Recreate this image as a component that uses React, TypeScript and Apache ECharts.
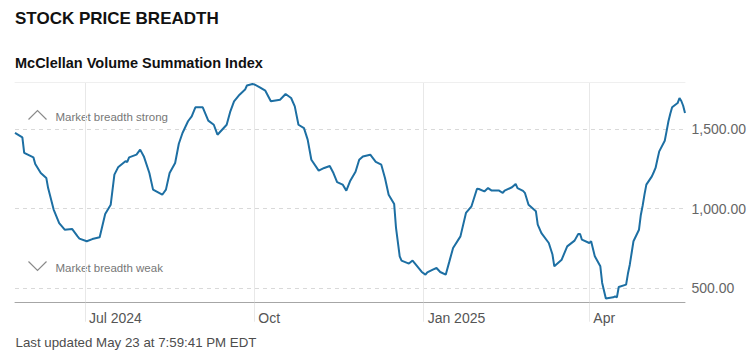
import React, { useEffect, useRef } from "react";
import * as echarts from "echarts";

const dates: string[] = [
  "2024-05-24","2024-05-28","2024-05-29","2024-06-03","2024-06-04","2024-06-07","2024-06-10","2024-06-11","2024-06-14","2024-06-17",
  "2024-06-20","2024-06-24","2024-06-27","2024-06-28","2024-07-02","2024-07-05","2024-07-09","2024-07-12","2024-07-15","2024-07-17",
  "2024-07-19","2024-07-23","2024-07-24","2024-07-25","2024-07-29","2024-07-31","2024-08-02","2024-08-05","2024-08-07","2024-08-12",
  "2024-08-14","2024-08-16","2024-08-19","2024-08-21","2024-08-23","2024-08-26","2024-08-28","2024-08-30","2024-09-03","2024-09-06",
  "2024-09-09","2024-09-11","2024-09-16","2024-09-18","2024-09-20","2024-09-23","2024-09-26","2024-09-27","2024-09-30","2024-10-01",
  "2024-10-04","2024-10-07","2024-10-10","2024-10-15","2024-10-18","2024-10-21","2024-10-23","2024-10-25","2024-10-28","2024-10-30",
  "2024-11-01","2024-11-05","2024-11-08","2024-11-11","2024-11-13","2024-11-15","2024-11-18","2024-11-20","2024-11-22","2024-11-25",
  "2024-11-27","2024-11-29","2024-12-03","2024-12-06","2024-12-09","2024-12-11","2024-12-13","2024-12-16","2024-12-17","2024-12-19",
  "2024-12-20","2024-12-24","2024-12-26","2024-12-30","2024-12-31","2025-01-02","2025-01-03","2025-01-06","2025-01-08","2025-01-10",
  "2025-01-13","2025-01-15","2025-01-17","2025-01-21","2025-01-24","2025-01-27","2025-01-30","2025-01-31","2025-02-03","2025-02-05",
  "2025-02-07","2025-02-11","2025-02-13","2025-02-14","2025-02-18","2025-02-20","2025-02-21","2025-02-24","2025-02-25","2025-02-27",
  "2025-03-03","2025-03-04","2025-03-06","2025-03-10","2025-03-12","2025-03-13","2025-03-17","2025-03-20","2025-03-24","2025-03-26",
  "2025-03-27","2025-03-28","2025-04-01","2025-04-02","2025-04-04","2025-04-07","2025-04-08","2025-04-10","2025-04-14","2025-04-15",
  "2025-04-16","2025-04-17","2025-04-21","2025-04-22","2025-04-23","2025-04-24","2025-04-25","2025-04-28","2025-04-29","2025-04-30",
  "2025-05-01","2025-05-02","2025-05-05","2025-05-06","2025-05-07","2025-05-08","2025-05-09","2025-05-12","2025-05-13","2025-05-14",
  "2025-05-15","2025-05-16","2025-05-19","2025-05-20","2025-05-21","2025-05-22","2025-05-23",
];

const values: number[] = [
  1478,1450,1352,1324,1282,1225,1194,1130,994,909,
  867,872,825,811,794,808,819,966,1025,1215,
  1261,1299,1295,1324,1341,1373,1330,1225,1120,1088,
  1120,1225,1288,1410,1478,1552,1583,1640,1640,1556,
  1530,1467,1530,1615,1678,1720,1752,1778,1787,1785,
  1766,1745,1678,1688,1724,1699,1646,1530,1509,1436,
  1309,1240,1257,1269,1225,1168,1152,1114,1173,1233,
  1309,1330,1341,1295,1278,1194,1088,1029,878,699,
  672,653,672,615,600,583,598,615,625,600,
  583,667,752,825,973,1015,1126,1124,1109,1130,
  1114,1114,1099,1114,1135,1156,1130,1112,1100,1025,
  983,899,846,783,710,636,678,762,798,840,
  840,804,783,794,699,636,531,432,440,446,
  440,505,520,590,646,720,794,867,960,1020,
  1090,1152,1204,1230,1257,1310,1362,1429,1490,1552,
  1600,1640,1667,1699,1680,1650,1604,
];

const xTickDates: string[] = ["2024-07-01", "2024-10-01", "2025-01-01", "2025-04-01"];
const xTickLabels: string[] = ["Jul 2024", "Oct", "Jan 2025", "Apr"];
const yTickValues: number[] = [500, 1000, 1500];

const titleText = "STOCK PRICE BREADTH";
const subtitleText = "McClellan Volume Summation Index";
const footerText = "Last updated May 23 at 7:59:41 PM EDT";
const strongText = "Market breadth strong";
const weakText = "Market breadth weak";

function ts(s: string): number {
  const [y, m, d] = s.split("-").map(Number);
  return Date.UTC(y, m - 1, d);
}

const FONT = '"Liberation Sans", Arial, sans-serif';

export default function App() {
  const ref = useRef<HTMLDivElement>(null);
  useEffect(() => {
    if (!ref.current) return;
    const chart = echarts.init(ref.current, undefined, { renderer: "svg" });
    const tickTs = xTickDates.map(ts);
    const seriesData = dates.map((d, i) => [ts(d), values[i]]);
    const minX = ts(dates[0]);
    const maxX = ts(dates[dates.length - 1]);
    chart.setOption({
      animation: false,
      grid: { left: 15, right: 63.5, top: 82, bottom: 59.3, containLabel: false },
      xAxis: [
        {
          type: "value",
          min: minX,
          max: maxX,
          axisLine: { show: true, lineStyle: { color: "#a6a6a6", width: 1 } },
          axisTick: {
            show: true,
            length: 19,
            customValues: tickTs,
            lineStyle: { color: "#e8e8e8", width: 1 },
          },
          splitLine: { show: true, lineStyle: { color: "#e8e8e8", width: 1 } },
          axisLabel: {
            customValues: tickTs,
            showMinLabel: true,
            showMaxLabel: true,
            formatter: (v: number) => {
              const i = tickTs.indexOf(v);
              return i >= 0 ? xTickLabels[i] : "";
            },
            align: "left",
            padding: [0, 0, 0, 4],
            margin: 8,
            color: "#555555",
            fontSize: 14,
            fontFamily: FONT,
          },
        },
        {
          type: "value",
          position: "top",
          min: minX,
          max: maxX,
          axisLine: { show: true, lineStyle: { color: "#efefef", width: 1 } },
          axisTick: { show: false },
          axisLabel: { show: false },
          splitLine: { show: false },
        },
      ],
      yAxis: {
        type: "value",
        position: "right",
        min: 406,
        max: 1800,
        axisLine: { show: false },
        axisTick: { show: false, customValues: yTickValues },
        splitLine: { show: true, lineStyle: { color: "#d9d9d9", type: [4, 4], width: 1 } },
        axisLabel: {
          customValues: yTickValues,
          margin: 6.5,
          color: "#666666",
          fontSize: 14,
          fontFamily: FONT,
          formatter: (v: number) =>
            v.toLocaleString("en-US", { minimumFractionDigits: 2, maximumFractionDigits: 2 }),
        },
      },
      series: [
        {
          type: "line",
          xAxisIndex: 0,
          data: seriesData,
          showSymbol: false,
          smooth: false,
          lineStyle: { color: "#1d6fa3", width: 2 },
          itemStyle: { color: "#1d6fa3" },
        },
      ],
      graphic: [
        {
          type: "text",
          x: 15,
          y: 18.5,
          style: { text: titleText, font: `bold 17px ${FONT}`, fill: "#111111", verticalAlign: "middle" },
        },
        {
          type: "text",
          x: 15,
          y: 62.8,
          style: { text: subtitleText, font: `bold 14.5px ${FONT}`, fill: "#111111", verticalAlign: "middle" },
        },
        {
          type: "polyline",
          shape: { points: [[28.5, 119.5], [37.5, 110.5], [46.5, 119.5]] },
          style: { stroke: "#8a8a8a", lineWidth: 1.2, fill: "none" },
        },
        {
          type: "text",
          x: 55.5,
          y: 117,
          style: { text: strongText, font: `11.5px ${FONT}`, fill: "#777777", verticalAlign: "middle" },
        },
        {
          type: "polyline",
          shape: { points: [[28.5, 261.5], [37.5, 270.5], [46.5, 261.5]] },
          style: { stroke: "#8a8a8a", lineWidth: 1.2, fill: "none" },
        },
        {
          type: "text",
          x: 55.5,
          y: 268,
          style: { text: weakText, font: `11.5px ${FONT}`, fill: "#777777", verticalAlign: "middle" },
        },
        {
          type: "text",
          x: 15.5,
          y: 342.7,
          style: { text: footerText, font: `13.3px ${FONT}`, fill: "#4d4d4d", verticalAlign: "middle" },
        },
      ],
    });
    return () => chart.dispose();
  }, []);
  return (
    <div
      ref={ref}
      style={{ position: "fixed", left: 0, top: 0, width: 749, height: 362, background: "#ffffff" }}
    />
  );
}
